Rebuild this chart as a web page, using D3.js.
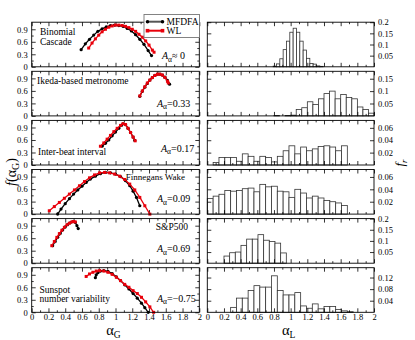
<!DOCTYPE html>
<html><head><meta charset="utf-8">
<script src="https://cdn.jsdelivr.net/npm/d3@7"></script>
<style>
body{margin:0;background:#fff}
svg{display:block}
text{font-family:"Liberation Serif","Times New Roman",serif;fill:#000}
</style>
</head><body>
<svg id="chart" width="415" height="340"></svg>
<script>
// ---------- data ----------
const panelLabels = [["Binomial","Cascade"],["Ikeda-based metronome"],["Inter-beat interval"],["Finnegans Wake"],["S&P500"],["Sunspot","number variability"]];
const asymmetryLabels = ["≈ 0","=0.33","=0.17","=0.09","=0.69","=−0.75"];

// singularity spectra [alpha_G, f]
const mfdfaBinomial = [[0.59,0.41],[0.64,0.55],[0.69,0.66],[0.74,0.76],[0.79,0.85],[0.84,0.91],[0.89,0.96],[0.94,0.99],[0.99,1.0],[1.04,0.99],[1.09,0.97],[1.14,0.92],[1.19,0.86],[1.24,0.77],[1.29,0.66],[1.34,0.54],[1.39,0.39],[1.43,0.27]];
const wlBinomial = [[0.68,0.45],[0.72,0.57],[0.76,0.67],[0.80,0.76],[0.84,0.84],[0.88,0.90],[0.92,0.95],[0.96,0.98],[1.00,1.0],[1.04,1.0],[1.08,0.99],[1.12,0.97],[1.16,0.94],[1.20,0.90],[1.24,0.85],[1.28,0.78],[1.32,0.71],[1.36,0.62],[1.40,0.52],[1.44,0.40],[1.46,0.35]];
const mfdfaIkeda = [[1.29,0.47],[1.32,0.59],[1.35,0.69],[1.38,0.78],[1.41,0.86],[1.44,0.92],[1.47,0.97],[1.50,1.0],[1.53,1.0],[1.56,0.98],[1.59,0.93],[1.62,0.85],[1.645,0.76]];
const wlIkeda = [[1.29,0.48],[1.32,0.60],[1.35,0.70],[1.38,0.79],[1.41,0.86],[1.44,0.92],[1.47,0.97],[1.50,1.0],[1.53,1.0],[1.56,0.98],[1.59,0.92],[1.62,0.83],[1.63,0.79]];
const mfdfaHeart = [[0.84,0.45],[0.88,0.52],[0.92,0.60],[0.96,0.70],[1.00,0.79],[1.04,0.88],[1.07,0.95],[1.09,0.99],[1.12,0.97],[1.15,0.88],[1.18,0.78],[1.21,0.67],[1.23,0.59]];
const wlHeart = [[0.82,0.45],[0.86,0.53],[0.90,0.62],[0.94,0.71],[0.98,0.80],[1.02,0.88],[1.06,0.95],[1.09,0.99],[1.12,0.97],[1.15,0.88],[1.18,0.78],[1.21,0.67],[1.235,0.58]];
const mfdfaJoyce = [[0.31,0.0],[0.35,0.12],[0.40,0.25],[0.45,0.37],[0.50,0.48],[0.55,0.58],[0.60,0.67],[0.65,0.76],[0.70,0.84],[0.76,0.91],[0.82,0.97],[0.88,1.0],[0.94,0.99],[1.00,0.96],[1.06,0.90],[1.12,0.80],[1.17,0.68],[1.21,0.55],[1.25,0.40],[1.29,0.20]];
const wlJoyce = [[0.21,0.08],[0.27,0.18],[0.33,0.28],[0.39,0.38],[0.45,0.48],[0.51,0.58],[0.57,0.68],[0.63,0.78],[0.69,0.87],[0.75,0.94],[0.81,0.99],[0.87,1.0],[0.93,0.99],[0.99,0.96],[1.05,0.91],[1.11,0.83],[1.17,0.72],[1.23,0.58],[1.29,0.40],[1.35,0.20],[1.41,0.0]];
const mfdfaSP = [[0.25,0.42],[0.28,0.52],[0.31,0.62],[0.34,0.71],[0.37,0.80],[0.40,0.87],[0.43,0.93],[0.46,0.97],[0.49,1.0],[0.52,0.98],[0.54,0.90],[0.555,0.83]];
const wlSP = [[0.24,0.42],[0.27,0.52],[0.30,0.62],[0.33,0.71],[0.36,0.79],[0.39,0.86],[0.42,0.92],[0.45,0.96],[0.48,0.99],[0.50,1.0],[0.52,0.99]];
const mfdfaSun = [[0.76,0.83],[0.77,0.90],[0.79,0.95],[0.82,0.99],[0.86,1.0],[0.91,0.98],[0.96,0.93],[1.01,0.85],[1.06,0.76],[1.11,0.66],[1.16,0.56],[1.21,0.45],[1.26,0.34],[1.31,0.22],[1.35,0.11],[1.39,0.0]];
const wlSun = [[0.65,0.86],[0.69,0.92],[0.73,0.96],[0.77,0.99],[0.81,1.0],[0.86,0.99],[0.91,0.96],[0.96,0.91],[1.01,0.84],[1.06,0.76],[1.11,0.67],[1.16,0.60],[1.21,0.52],[1.26,0.45],[1.31,0.36],[1.36,0.25],[1.41,0.13],[1.455,0.0]];

// histograms of alpha_L: first bin edge, bin width, relative frequencies
const histStart = [0.79, 0.80, 0.07, 0.0, 0.20, 0.28];
const histWidth = [0.04, 0.0667, 0.07, 0.07, 0.068, 0.07];
const histBinomial = [0.003,0.013,0.036,0.077,0.115,0.155,0.173,0.155,0.115,0.075,0.038,0.015,0.012,0.004,0.002];
const histIkeda = [0.002,0,0.002,0.003,0.026,0.033,0.057,0.046,0.069,0.09,0.1,0.069,0.086,0.074,0.069,0.036,0.026,0.011];
const histHeart = [0.004,0.012,0.012,0.012,0.006,0.018,0.014,0.006,0.014,0.012,0.005,0.014,0.023,0.031,0.018,0.029,0.023,0.026,0.030,0.031,0.029,0.023,0.031];
const histJoyce = [0.025,0.029,0.032,0.038,0.037,0.038,0.041,0.042,0.036,0.048,0.044,0.045,0.037,0.036,0.027,0.040,0.034,0.026,0.029,0.026,0.022,0.020,0.018,0.014];
const histSP = [0.032,0.047,0.05,0.08,0.108,0.108,0.128,0.103,0.097,0.09,0.046];
const histSun = [0.017,0.049,0.049,0.075,0.092,0.087,0.087,0.126,0.075,0.060,0.060,0.068,0.022,0.014,0.029,0.012,0.020,0.020,0.010,0.005,0.002];

// axis ticks
const alphaTicks = [0,0.2,0.4,0.6,0.8,1,1.2,1.4,1.6,1.8,2];
const alphaMinor = [0.1,0.3,0.5,0.7,0.9,1.1,1.3,1.5,1.7,1.9];
const fTicks = [0,0.3,0.6,0.9];
const fMinor = [0.15,0.45,0.75];
const freqMax = [0.2, 0.18, 0.072, 0.072, 0.2, 0.154];
const freqTicks = [[0.05,0.1,0.15,0.2],[0.05,0.1,0.15],[0.02,0.04,0.06],[0.02,0.04,0.06],[0.05,0.1,0.15,0.2],[0.04,0.08,0.12]];

const mfdfaSeries = [mfdfaBinomial, mfdfaIkeda, mfdfaHeart, mfdfaJoyce, mfdfaSP, mfdfaSun];
const wlSeries = [wlBinomial, wlIkeda, wlHeart, wlJoyce, wlSP, wlSun];
const histSeries = [histBinomial, histIkeda, histHeart, histJoyce, histSP, histSun];

// ---------- layout ----------
const svg = d3.select("#chart");
const lx0 = 31.7, lx1 = 199.3, rx0 = 207.3, rx1 = 374;
const top0 = 22.2, step = 49.1, ph = 44.6;
const RED = "#e8000b";
const xL = d3.scaleLinear([0,2],[lx0,lx1]);
const xR = d3.scaleLinear([0,2],[rx0,rx1]);
const tickFont = 8.5;

function styleAxis(g){
  g.select(".domain").remove();
  g.selectAll(".tick line").attr("stroke","#000").attr("stroke-width",0.8);
  g.selectAll(".tick text").attr("font-family","Liberation Serif, serif").attr("font-size",tickFont).attr("fill","#000");
}

const fmt = d => d3.format("~g")(d);

for (let i = 0; i < 6; i++) {
  const y0 = top0 + i*step, y1 = y0 + ph;
  const yL = d3.scaleLinear([0,1.07],[y1,y0]);
  const yR = d3.scaleLinear([0,freqMax[i]],[y1,y0]);
  const last = i === 5;

  // ----- left panel -----
  const gl = svg.append("g");
  gl.append("g").attr("transform",`translate(0,${y1})`)
    .call(d3.axisBottom(xL).tickValues(alphaTicks).tickSize(-4).tickPadding(2).tickFormat(last?fmt:"")).call(styleAxis);
  gl.append("g").attr("transform",`translate(0,${y1})`)
    .call(d3.axisBottom(xL).tickValues(alphaMinor).tickSize(-2).tickFormat("")).call(styleAxis);
  gl.append("g").attr("transform",`translate(0,${y0})`)
    .call(d3.axisTop(xL).tickValues(alphaTicks).tickSize(-4).tickFormat("")).call(styleAxis);
  gl.append("g").attr("transform",`translate(0,${y0})`)
    .call(d3.axisTop(xL).tickValues(alphaMinor).tickSize(-2).tickFormat("")).call(styleAxis);
  gl.append("g").attr("transform",`translate(${lx0},0)`)
    .call(d3.axisLeft(yL).tickValues(fTicks).tickSize(-4).tickPadding(4).tickFormat(fmt)).call(styleAxis);
  gl.append("g").attr("transform",`translate(${lx0},0)`)
    .call(d3.axisLeft(yL).tickValues(fMinor).tickSize(-2).tickFormat("")).call(styleAxis);
  gl.append("g").attr("transform",`translate(${lx1},0)`)
    .call(d3.axisRight(yL).tickValues(fTicks).tickSize(-4).tickFormat("")).call(styleAxis);
  gl.append("g").attr("transform",`translate(${lx1},0)`)
    .call(d3.axisRight(yL).tickValues(fMinor).tickSize(-2).tickFormat("")).call(styleAxis);

  const line = d3.line().x(d=>xL(d[0])).y(d=>yL(d[1]));
  // MFDFA (black, circles)
  gl.append("path").datum(mfdfaSeries[i]).attr("d",line).attr("fill","none").attr("stroke","#000").attr("stroke-width",1.3);
  gl.selectAll(".mc").data(mfdfaSeries[i]).enter().append("circle")
    .attr("cx",d=>xL(d[0])).attr("cy",d=>yL(d[1])).attr("r",1.6).attr("fill","#000");
  // WL (red, squares)
  gl.append("path").datum(wlSeries[i]).attr("d",line).attr("fill","none").attr("stroke",RED).attr("stroke-width",1.3);
  gl.selectAll(".ws").data(wlSeries[i]).enter().append("rect")
    .attr("x",d=>xL(d[0])-1.5).attr("y",d=>yL(d[1])-1.5).attr("width",3).attr("height",3).attr("fill",RED);

  gl.append("rect").attr("x",lx0).attr("y",y0).attr("width",lx1-lx0).attr("height",ph)
    .attr("fill","none").attr("stroke","#000").attr("stroke-width",0.9);

  // ----- right panel -----
  const gr = svg.append("g");
  const bw = xR(histWidth[i]) - xR(0);
  gr.selectAll(".bar").data(histSeries[i].map((v,k)=>({a:histStart[i]+k*histWidth[i], v})).filter(d=>d.v>0))
    .enter().append("rect")
    .attr("x",d=>xR(d.a)).attr("y",d=>yR(d.v)).attr("width",bw).attr("height",d=>yR(0)-yR(d.v))
    .attr("fill","#fff").attr("stroke","#333").attr("stroke-width",0.8);

  gr.append("g").attr("transform",`translate(0,${y1})`)
    .call(d3.axisBottom(xR).tickValues(alphaTicks).tickSize(-4).tickPadding(2).tickFormat(last?fmt:"")).call(styleAxis);
  gr.append("g").attr("transform",`translate(0,${y1})`)
    .call(d3.axisBottom(xR).tickValues(alphaMinor).tickSize(-2).tickFormat("")).call(styleAxis);
  gr.append("g").attr("transform",`translate(0,${y0})`)
    .call(d3.axisTop(xR).tickValues(alphaTicks).tickSize(-4).tickFormat("")).call(styleAxis);
  gr.append("g").attr("transform",`translate(0,${y0})`)
    .call(d3.axisTop(xR).tickValues(alphaMinor).tickSize(-2).tickFormat("")).call(styleAxis);
  gr.append("g").attr("transform",`translate(${rx1},0)`)
    .call(d3.axisRight(yR).tickValues(freqTicks[i]).tickSize(-4).tickPadding(4).tickFormat(fmt)).call(styleAxis);
  gr.append("g").attr("transform",`translate(${rx0},0)`)
    .call(d3.axisLeft(yR).tickValues(freqTicks[i]).tickSize(-4).tickFormat("")).call(styleAxis);
  gr.append("rect").attr("x",rx0).attr("y",y0).attr("width",rx1-rx0).attr("height",ph)
    .attr("fill","none").attr("stroke","#000").attr("stroke-width",0.9);
}

// ----- panel annotations -----
const labelFont = 9.5;
function addText(x,y,str,anchor,size){
  return svg.append("text").attr("x",x).attr("y",y).attr("font-size",size||labelFont).attr("text-anchor",anchor||"start").text(str);
}
addText(40,35,panelLabels[0][0]); addText(40,44.5,panelLabels[0][1]);
addText(37,84,panelLabels[1][0]);
addText(38,154.5,panelLabels[2][0]);
addText(185,180,panelLabels[3][0],"end",9);
addText(188,229.5,panelLabels[4][0],"end");
addText(39.5,292.5,panelLabels[5][0]); addText(39.5,301.5,panelLabels[5][1]);

const asymPos = [[162,59],[157,106.5],[161,151.5],[157,202],[157,252],[157,301.5]];
asymPos.forEach((p,i)=>{
  const t = svg.append("text").attr("x",p[0]).attr("y",p[1]).attr("font-size",labelFont+0.5);
  t.append("tspan").attr("font-style","italic").text("A");
  t.append("tspan").attr("dy",2.5).attr("font-size",7.5).text("α");
  t.append("tspan").attr("dy",-2.5).text(asymmetryLabels[i]);
});

// ----- legend -----
const lg = svg.append("g");
lg.append("rect").attr("x",144).attr("y",14.5).attr("width",55.5).attr("height",23).attr("fill","#fff").attr("stroke","#777").attr("stroke-width",0.9);
lg.append("line").attr("x1",147.5).attr("x2",162.5).attr("y1",21.7).attr("y2",21.7).attr("stroke","#555").attr("stroke-width",2);
[147.5,162.5].forEach(x=>lg.append("circle").attr("cx",x).attr("cy",21.7).attr("r",1.8).attr("fill","#000"));
lg.append("line").attr("x1",147.5).attr("x2",162.5).attr("y1",30.7).attr("y2",30.7).attr("stroke",RED).attr("stroke-width",2);
[147.5,162.5].forEach(x=>lg.append("rect").attr("x",x-1.8).attr("y",30.7-1.8).attr("width",3.6).attr("height",3.6).attr("fill",RED));
lg.append("text").attr("x",166.5).attr("y",25).attr("font-size",9.5).text("MFDFA");
lg.append("text").attr("x",166.5).attr("y",34).attr("font-size",9.5).text("WL");

// ----- axis titles -----
const yt = svg.append("text").attr("transform","translate(16,172) rotate(-90)").attr("text-anchor","middle").attr("font-size",14);
yt.append("tspan").attr("font-style","italic").text("f");
yt.append("tspan").text("(α");
yt.append("tspan").attr("dy",3).attr("font-size",10).text("G");
yt.append("tspan").attr("dy",-3).text(")");

const xtL = svg.append("text").attr("x",xL(1)-2).attr("y",335).attr("text-anchor","middle").attr("font-size",14.5);
xtL.append("tspan").text("α");
xtL.append("tspan").attr("dy",2.5).attr("font-size",9.5).text("G");
const xtR = svg.append("text").attr("x",xR(1)-2).attr("y",335).attr("text-anchor","middle").attr("font-size",14.5);
xtR.append("tspan").text("α");
xtR.append("tspan").attr("dy",2.5).attr("font-size",9.5).text("L");

const rt = svg.append("text").attr("transform","translate(404,163) rotate(-90)").attr("text-anchor","middle").attr("font-size",13);
rt.append("tspan").attr("font-style","italic").text("f");
rt.append("tspan").attr("dy",3).attr("font-size",9).attr("font-style","italic").text("r");
</script>
</body></html>
